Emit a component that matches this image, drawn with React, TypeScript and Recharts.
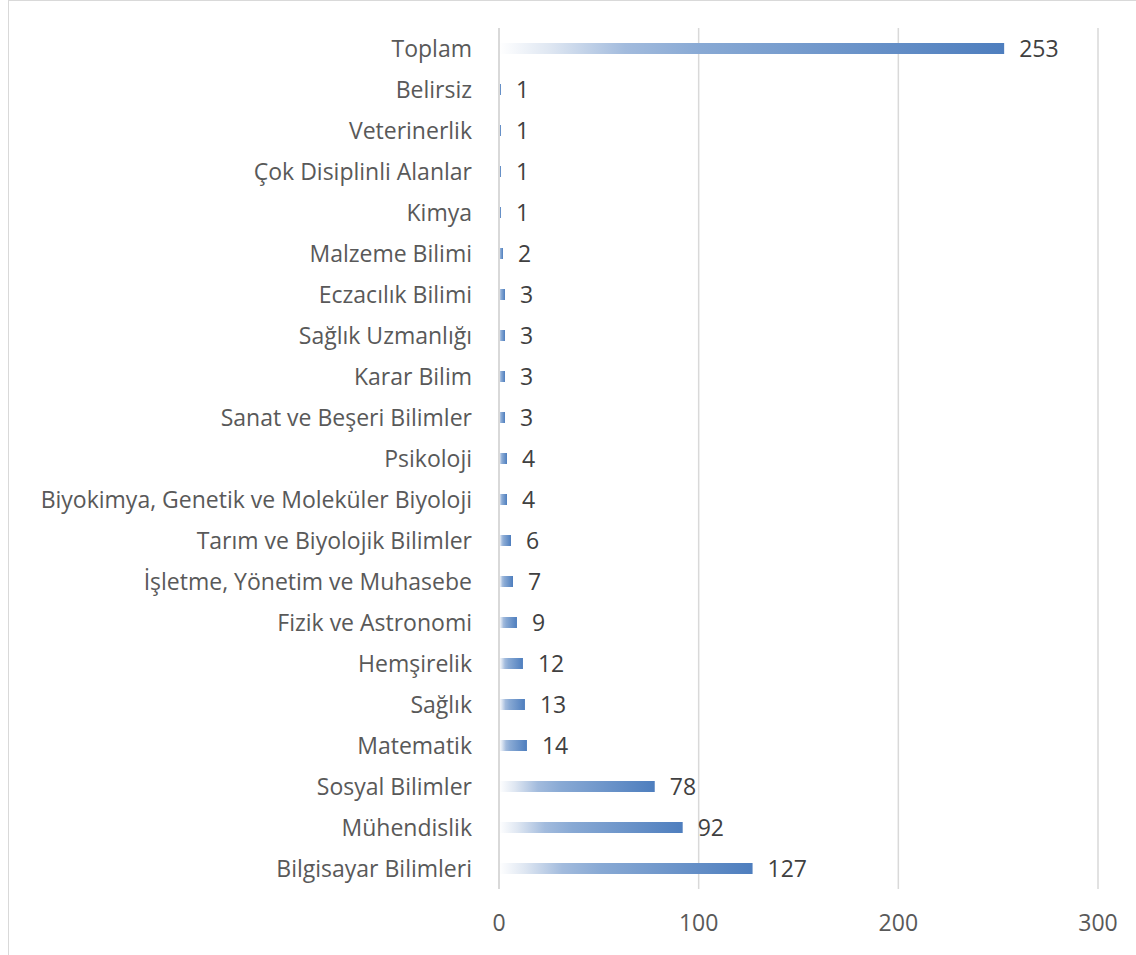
import React from "react"
import { BarChart, Bar, XAxis, YAxis, CartesianGrid, LabelList } from "recharts"

const categories = [
  "Toplam",
  "Belirsiz",
  "Veterinerlik",
  "Çok Disiplinli Alanlar",
  "Kimya",
  "Malzeme Bilimi",
  "Eczacılık Bilimi",
  "Sağlık Uzmanlığı",
  "Karar Bilim",
  "Sanat ve Beşeri Bilimler",
  "Psikoloji",
  "Biyokimya, Genetik ve Moleküler Biyoloji",
  "Tarım ve Biyolojik Bilimler",
  "İşletme, Yönetim ve Muhasebe",
  "Fizik ve Astronomi",
  "Hemşirelik",
  "Sağlık",
  "Matematik",
  "Sosyal Bilimler",
  "Mühendislik",
  "Bilgisayar Bilimleri",
]

const counts = [253, 1, 1, 1, 1, 2, 3, 3, 3, 3, 4, 4, 6, 7, 9, 12, 13, 14, 78, 92, 127]

const xTicks = [0, 100, 200, 300]

const data = categories.map((name, i) => ({ name, value: counts[i] }))

const font = "'Open Sans', sans-serif"

export default function App() {
  return (
    <div style={{ position: "absolute", left: 0, top: 0, width: 1136, height: 955, background: "#fff" }}>
      <div
        style={{
          position: "absolute",
          left: 8,
          top: 0,
          width: 1136,
          height: 960,
          border: "1px solid #d9d9d9",
          boxSizing: "border-box",
        }}
      />
      <BarChart
        width={1136}
        height={955}
        data={data}
        layout="vertical"
        margin={{ top: 28, right: 38, bottom: 0, left: 0 }}
        style={{ position: "absolute", left: 0, top: 0, fontFamily: font }}
      >
        <defs>
          <linearGradient id="barFill" x1="0" y1="0" x2="1" y2="0">
            <stop offset="0%" stopColor="#ffffff" />
            <stop offset="10%" stopColor="#dfe7f2" />
            <stop offset="25%" stopColor="#a2bbdd" />
            <stop offset="40%" stopColor="#88a9d4" />
            <stop offset="100%" stopColor="#4e7ebe" />
          </linearGradient>
        </defs>
        <CartesianGrid horizontal={false} stroke="#d9d9d9" strokeWidth={1.5} />
        <XAxis
          type="number"
          domain={[0, 300]}
          ticks={xTicks}
          axisLine={false}
          tickLine={false}
          tickSize={0}
          tickMargin={26}
          height={66}
          tick={{ fill: "#595959", fontSize: 23, fontFamily: font }}
        />
        <YAxis
          type="category"
          dataKey="name"
          width={499}
          interval={0}
          axisLine={{ stroke: "#d9d9d9", strokeWidth: 2 }}
          tickLine={false}
          tickSize={0}
          tickMargin={27}
          tick={{ fill: "#595959", fontSize: 23, fontFamily: font }}
        />
        <Bar dataKey="value" fill="url(#barFill)" barSize={11} isAnimationActive={false}>
          <LabelList
            dataKey="value"
            position="right"
            offset={15}
            fill="#404040"
            fontSize={23}
            fontFamily={font}
          />
        </Bar>
      </BarChart>
    </div>
  )
}
